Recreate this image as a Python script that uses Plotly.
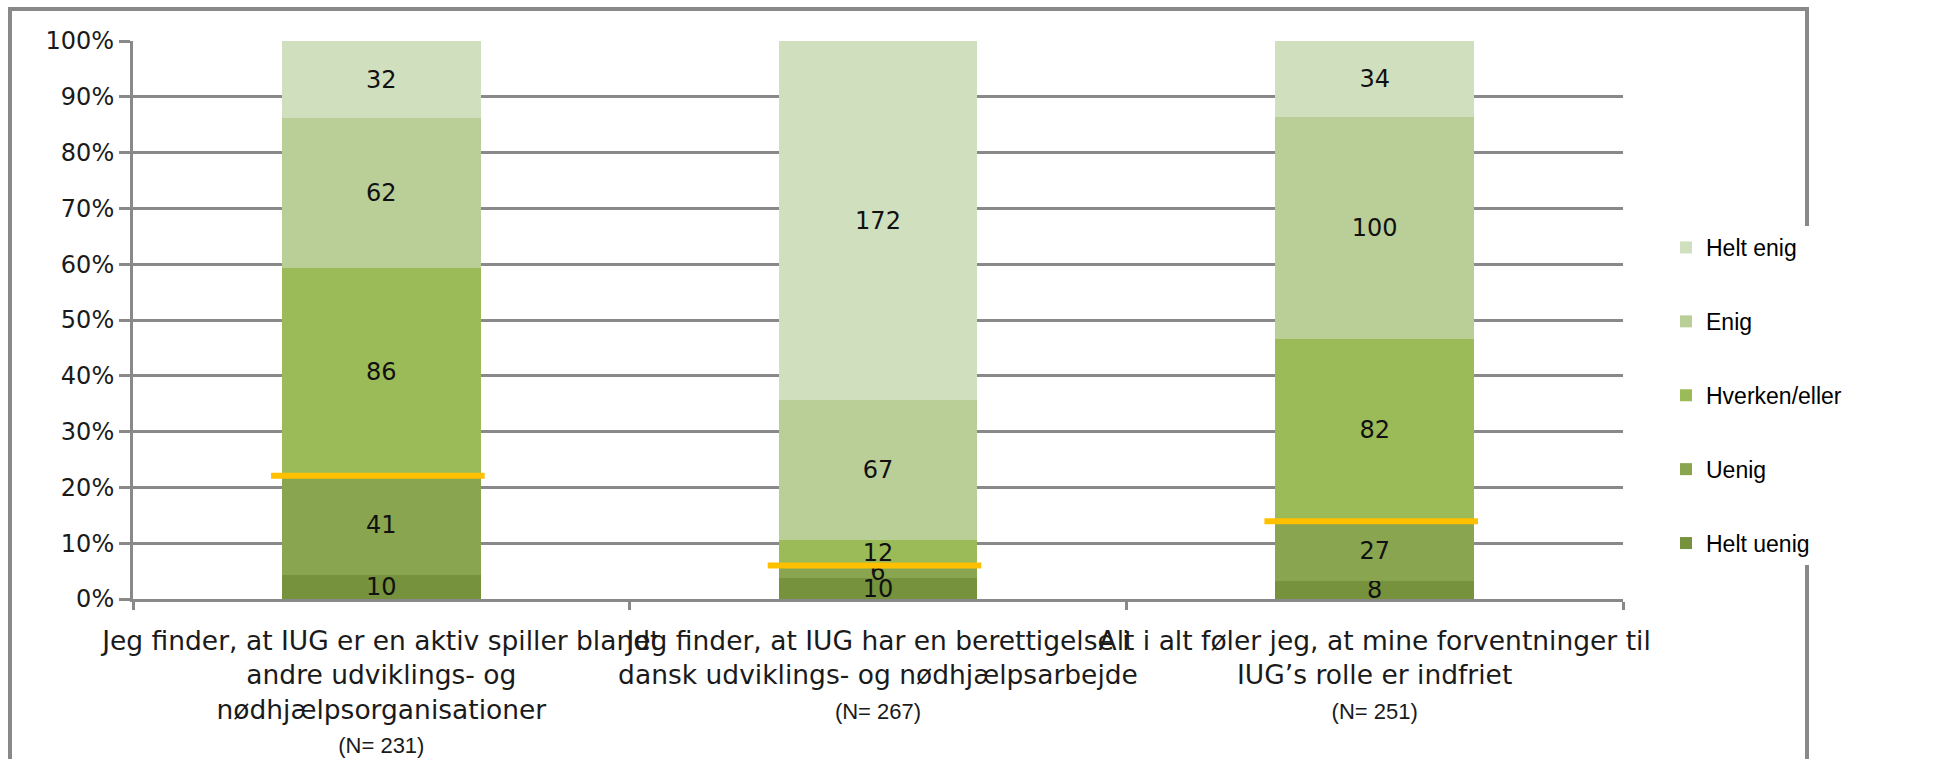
import plotly.graph_objects as go

# ---------------- data ----------------
categories = ["aktiv_spiller", "berettigelse", "forventninger"]
label_lines = [
    "Jeg finder, at IUG er en aktiv spiller blandt<br>andre udviklings- og<br>nødhjælpsorganisationer",
    "Jeg finder, at IUG har en berettigelse i<br>dansk udviklings- og nødhjælpsarbejde",
    "Alt i alt føler jeg, at mine forventninger til<br>IUG’s rolle er indfriet",
]
series_names = ["Helt uenig", "Uenig", "Hverken/eller", "Enig", "Helt enig"]
helt_uenig = [10, 10, 8]
uenig = [41, 6, 27]
hverken = [86, 12, 82]
enig = [62, 67, 100]
helt_enig = [32, 172, 34]
series_values = [helt_uenig, uenig, hverken, enig, helt_enig]
colors = ["#76923C", "#8AA54F", "#9BBB59", "#BACF98", "#D0DFBE"]

# ---------------- geometry ----------------
W, H = 1949, 759
ML, MR, MT, MB = 133, 326, 41, 160
PW = W - ML - MR
PH = H - MT - MB

def px_x(p):
    return (p - ML) / PW

def px_y(p):
    return (H - MB - p) / PH

totals = [sum(v[i] for v in series_values) for i in range(len(categories))]
ticktext = [
    f"{lab}<br><span style='font-family:Liberation Sans, Arial; font-size:22px'>(N= {n})</span>"
    for lab, n in zip(label_lines, totals)
]

GRID = "#898989"
fig = go.Figure()
n_series = len(series_names)
for k, (name, vals, col) in enumerate(zip(series_names, series_values, colors)):
    fig.add_trace(go.Bar(
        x=categories,
        y=[v / n for v, n in zip(vals, totals)],
        name=name,
        marker=dict(color=col, line=dict(width=0)),
        text=[str(v) for v in vals],
        textposition="inside",
        insidetextanchor="middle",
        textangle=0,
        textfont=dict(family="DejaVu Sans", size=24, color="#111111"),
        legendgroup=name,
        legendrank=n_series - k,
        hoverinfo="skip",
    ))

shapes = []
# orange threshold lines (disagree share)
for i in range(len(categories)):
    thr = (helt_uenig[i] + uenig[i]) / totals[i]
    shapes.append(dict(type="line", xref="x", yref="y",
                       x0=i - 0.222, x1=i + 0.208, y0=thr, y1=thr,
                       line=dict(color="#FFC000", width=6), layer="above"))
# outer frame
fx0, fx1, fy0, fy1 = px_x(10), px_x(1807), px_y(9), px_y(800)
shapes.append(dict(type="path", xref="paper", yref="paper",
                   path=f"M {fx0},{fy1} L {fx0},{fy0} L {fx1},{fy0} L {fx1},{fy1}",
                   line=dict(color=GRID, width=4), layer="below"))

fig.update_layout(
    width=W, height=H,
    margin=dict(l=ML, r=MR, t=MT, b=MB, autoexpand=False),
    barmode="stack",
    bargap=0.6,
    plot_bgcolor="white",
    paper_bgcolor="white",
    shapes=shapes,
    uniformtext=dict(minsize=24, mode="show"),
    showlegend=True,
    legend=dict(
        x=px_x(1666), y=px_y(226), xanchor="left", yanchor="top",
        traceorder="grouped", tracegroupgap=41,
        bgcolor="white", borderwidth=0,
        font=dict(family="Liberation Sans, Arial", size=23, color="#000000"),
        itemwidth=30,
    ),
    xaxis=dict(
        type="category",
        tickvals=categories, ticktext=ticktext,
        tickson="boundaries", ticks="outside", ticklen=8, tickwidth=3, tickcolor=GRID,
        showline=True, linecolor=GRID, linewidth=3,
        showgrid=False, tickangle=0,
        ticklabelstandoff=16,
        tickfont=dict(family="DejaVu Sans", size=26.5, color="#1a1a1a"),
        range=[-0.5, 2.5],
    ),
    yaxis=dict(
        range=[0, 1], dtick=0.1, tickformat=".0%",
        showgrid=True, gridcolor=GRID, gridwidth=3,
        showline=True, linecolor=GRID, linewidth=3,
        ticks="outside", ticklen=11, tickwidth=3, tickcolor=GRID,
        zeroline=False,
        tickfont=dict(family="DejaVu Sans", size=24, color="#1a1a1a"),
    ),
)

fig.write_html("out.html", config={"displayModeBar": False},
               post_script="document.body.style.margin='0';")
